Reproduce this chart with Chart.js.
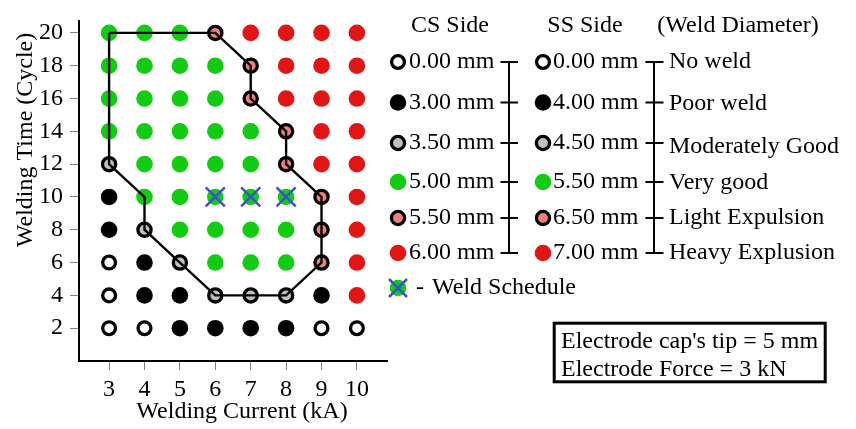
<!DOCTYPE html>
<html>
<head>
<meta charset="utf-8">
<script src="https://cdn.jsdelivr.net/npm/chart.js@4/dist/chart.umd.min.js"></script>
<style>
  html, body { margin: 0; padding: 0; background: #fff; }
</style>
</head>
<body>
<canvas id="weldChart" width="856" height="429"></canvas>
<script>
const CURRENTS = [3, 4, 5, 6, 7, 8, 9, 10];
const TIMES = [20, 18, 16, 14, 12, 10, 8, 6, 4, 2];
// 0 no weld, 1 poor, 2 moderately good, 3 very good, 4 light expulsion, 5 heavy expulsion
const WELD_GRID = [
  [3, 3, 3, 4, 5, 5, 5, 5],
  [3, 3, 3, 3, 4, 5, 5, 5],
  [3, 3, 3, 3, 4, 5, 5, 5],
  [3, 3, 3, 3, 3, 4, 5, 5],
  [2, 3, 3, 3, 3, 4, 5, 5],
  [1, 3, 3, 3, 3, 3, 4, 5],
  [1, 2, 3, 3, 3, 3, 4, 5],
  [0, 1, 2, 3, 3, 3, 4, 5],
  [0, 1, 1, 2, 2, 2, 1, 5],
  [0, 0, 1, 1, 1, 1, 0, 0]
];
const SCHEDULE_X = [6, 7, 8];
const SCHEDULE_Y = [10, 10, 10];
const LOBE_X = [3, 6, 7, 7, 8, 8, 9, 9, 8, 7, 6, 5, 4, 4, 3, 3];
const LOBE_Y = [20, 20, 18, 16, 14, 12, 10, 6, 4, 4, 4, 6, 8, 10, 12, 20];
const X_TICKS = [3, 4, 5, 6, 7, 8, 9, 10];
const Y_TICKS = [2, 4, 6, 8, 10, 12, 14, 16, 18, 20];
const CS_LABELS = ['0.00 mm', '3.00 mm', '3.50 mm', '5.00 mm', '5.50 mm', '6.00 mm'];
const SS_LABELS = ['0.00 mm', '4.00 mm', '4.50 mm', '5.50 mm', '6.50 mm', '7.00 mm'];
const QUALITY_LABELS = ['No weld', 'Poor weld', 'Moderately Good', 'Very good', 'Light Expulsion', 'Heavy Explusion'];

const FONT = 'Liberation Serif';
const FILLS = ['#ffffff', '#000000', '#c0c0c0', '#11cc11', '#f08080', '#e21515'];
const BORDERS = ['#000000', '#000000', '#000000', '#11cc11', '#000000', '#e21515'];
const BORDER_W = [3.3, 0, 3.3, 0, 3.3, 0];
const RADII = [6.4, 8.3, 6.6, 8.3, 6.6, 8.3];
const BLUE = '#3d4fd6';

const classPoints = (cls) => {
  let pts = [];
  for (let r = 0; r < TIMES.length; r++) {
    for (let c = 0; c < CURRENTS.length; c++) {
      if (WELD_GRID[r][c] === cls) {
        pts.push({ x: CURRENTS[c], y: TIMES[r] });
      }
    }
  }
  return pts;
};

const drawDot = (ctx, x, y, cls) => {
  ctx.beginPath();
  ctx.arc(x, y, RADII[cls], 0, Math.PI * 2);
  ctx.fillStyle = FILLS[cls];
  ctx.fill();
  if (BORDER_W[cls]) {
    ctx.lineWidth = BORDER_W[cls];
    ctx.strokeStyle = BORDERS[cls];
    ctx.stroke();
  }
};

const sideLegend = {
  id: 'sideLegend',
  afterDraw(chart) {
    const ctx = chart.ctx;
    ctx.save();
    ctx.fillStyle = '#000';
    ctx.font = `24px "${FONT}"`;
    ctx.textBaseline = 'middle';

    // axis titles, both a little off the axis centre like the original
    ctx.save();
    ctx.translate(26, 140);
    ctx.rotate(-Math.PI / 2);
    ctx.textAlign = 'center';
    ctx.fillText('Welding Time (Cycle)', 0, 0);
    ctx.restore();
    ctx.textAlign = 'center';
    ctx.fillText('Welding Current (kA)', 242, 412);

    ctx.fillText('CS Side', 450, 26);
    ctx.fillText('SS Side', 585, 26);
    ctx.fillText('(Weld Diameter)', 738, 26);

    const rowY = [62, 102.5, 143, 182, 218, 253];
    const qualY = [62, 104, 147, 183, 218, 253];
    ctx.textAlign = 'left';
    for (let i = 0; i < CS_LABELS.length; i++) {
      drawDot(ctx, 398, rowY[i], i);
      drawDot(ctx, 543, rowY[i], i);
      ctx.fillStyle = '#000';
      ctx.fillText(CS_LABELS[i], 409, rowY[i]);
      ctx.fillText(SS_LABELS[i], 553, rowY[i]);
      ctx.fillText(QUALITY_LABELS[i], 669, qualY[i]);
    }

    // brackets
    ctx.strokeStyle = '#000';
    ctx.lineWidth = 2;
    [[509, 500.5, 518], [654, 645.5, 663.5]].forEach(([vx, x0, x1]) => {
      ctx.beginPath();
      ctx.moveTo(vx, rowY[0]);
      ctx.lineTo(vx, rowY[rowY.length - 1]);
      rowY.forEach(y => {
        ctx.moveTo(x0, y);
        ctx.lineTo(x1, y);
      });
      ctx.stroke();
    });

    // weld schedule marker
    drawDot(ctx, 398, 288, 3);
    ctx.strokeStyle = BLUE;
    ctx.lineWidth = 2.5;
    ctx.beginPath();
    ctx.moveTo(389, 279); ctx.lineTo(407, 297);
    ctx.moveTo(407, 279); ctx.lineTo(389, 297);
    ctx.stroke();
    ctx.fillStyle = '#000';
    ctx.fillText('-', 416, 288);
    ctx.fillText('Weld Schedule', 432, 288);

    // electrode info box
    ctx.lineWidth = 3;
    ctx.strokeStyle = '#000';
    ctx.strokeRect(554.2, 323.2, 271, 58.6);
    ctx.fillText("Electrode cap's tip = 5 mm", 561, 342);
    ctx.fillText('Electrode Force = 3 kN', 561, 370);
    ctx.restore();
  }
};

const pointSets = [0, 1, 2, 3, 4, 5].map(cls => ({
  type: 'scatter',
  data: classPoints(cls),
  pointRadius: RADII[cls],
  pointBackgroundColor: FILLS[cls],
  pointBorderColor: BORDERS[cls],
  pointBorderWidth: BORDER_W[cls],
  order: 3
}));

new Chart(document.getElementById('weldChart'), {
  type: 'scatter',
  data: {
    datasets: [
      ...pointSets,
      {
        type: 'line',
        data: LOBE_X.map((x, i) => ({ x: x, y: LOBE_Y[i] })),
        borderColor: '#000',
        borderWidth: 2.4,
        pointRadius: 0,
        fill: false,
        tension: 0,
        order: 2
      },
      {
        type: 'scatter',
        data: SCHEDULE_X.map((x, i) => ({ x: x, y: SCHEDULE_Y[i] })),
        pointStyle: 'crossRot',
        pointRadius: 13.5,
        pointBorderColor: BLUE,
        pointBorderWidth: 2.5,
        order: 1
      }
    ]
  },
  options: {
    responsive: false,
    animation: false,
    devicePixelRatio: 1,
    layout: { padding: { left: 0, right: 469, top: 10, bottom: 0 } },
    plugins: { legend: { display: false }, tooltip: { enabled: false } },
    scales: {
      x: {
        type: 'linear',
        min: 2.15,
        max: 10.85,
        afterFit: s => { s.height = 68; },
        afterBuildTicks: s => { s.ticks = X_TICKS.map(v => ({ value: v })); },
        grid: { drawOnChartArea: false, drawTicks: true, tickLength: 9, color: '#808080' },
        border: { display: true, color: '#000', width: 2 },
        ticks: { color: '#000', padding: 5, font: { family: FONT, size: 24 } }
      },
      y: {
        type: 'linear',
        min: 0,
        max: 20.7,
        afterFit: s => { s.width = 79; },
        afterBuildTicks: s => { s.ticks = Y_TICKS.map(v => ({ value: v })); },
        grid: { drawOnChartArea: false, drawTicks: true, tickLength: 9, color: '#808080' },
        border: { display: true, color: '#000', width: 2 },
        ticks: { color: '#000', padding: 7, font: { family: FONT, size: 24 } }
      }
    }
  },
  plugins: [sideLegend]
});
</script>
</body>
</html>
